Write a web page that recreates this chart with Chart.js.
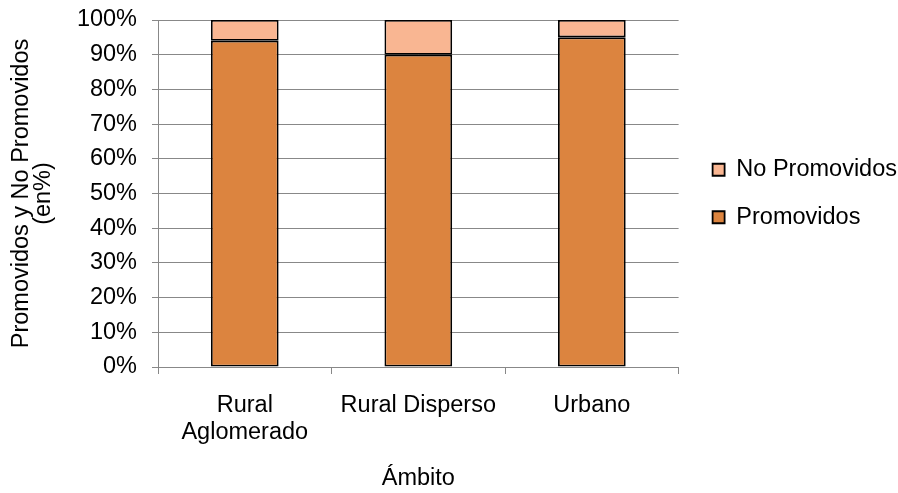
<!DOCTYPE html>
<html>
<head>
<meta charset="utf-8">
<script src="https://cdn.jsdelivr.net/npm/chart.js@4/dist/chart.umd.min.js"></script>
<style>
    html, body { margin: 0; padding: 0; background: #fff; }
    #wrap { width: 898px; height: 493px; }
</style>
</head>
<body>
<div id="wrap"><canvas id="chart"></canvas></div>
<script>
const categories = [["Rural", "Aglomerado"], "Rural Disperso", "Urbano"];
const promovidos = [94, 90, 95];
const noPromovidos = [6, 10, 5];
const yTicks = [0, 10, 20, 30, 40, 50, 60, 70, 80, 90, 100];

const FONT = "'Liberation Sans', Arial, sans-serif";
const SIZE = 23.5;

// nudge the legend a bit further from the plot, like the original
const legendShift = {
    id: "legendShift",
    afterLayout(chart) {
        if (chart.legend) {
            chart.legend.left += 10;
            chart.legend.right += 10;
        }
    }
};

const ctx = document.getElementById("chart").getContext("2d");

new Chart(ctx, {
    type: "bar",
    data: {
        labels: categories,
        datasets: [
            {
                label: "Promovidos",
                data: promovidos,
                backgroundColor: "#DC843F",
                borderColor: "#000000",
                borderWidth: 1.8,
                borderSkipped: false
            },
            {
                label: "No Promovidos",
                data: noPromovidos,
                backgroundColor: "#F9B692",
                borderColor: "#000000",
                borderWidth: 1.8,
                borderSkipped: false
            }
        ]
    },
    plugins: [legendShift],
    options: {
        responsive: true,
        maintainAspectRatio: false,
        animation: false,
        datasets: {
            bar: { categoryPercentage: 1, barPercentage: 0.39 }
        },
        layout: { padding: { top: 0, right: 1, bottom: 0, left: 10 } },
        plugins: {
            legend: {
                position: "right",
                fullSize: false,
                reverse: true,
                labels: {
                    color: "#000",
                    font: { family: FONT, size: SIZE },
                    boxWidth: 12,
                    boxHeight: 12,
                    padding: 24,
                    useBorderRadius: false
                }
            },
            tooltip: { enabled: false }
        },
        scales: {
            x: {
                stacked: true,
                offset: true,
                afterFit: axis => { axis.height = 126; },
                grid: {
                    offset: true,
                    drawOnChartArea: false,
                    color: "#888",
                    tickLength: 7
                },
                border: { color: "#888", width: 1 },
                ticks: {
                    color: "#000",
                    font: { family: FONT, size: SIZE, lineHeight: 1.15 },
                    padding: 18,
                    maxRotation: 0
                },
                title: {
                    display: true,
                    text: "Ámbito",
                    color: "#000",
                    font: { family: FONT, size: SIZE },
                    padding: { top: 6, bottom: 0 }
                }
            },
            y: {
                stacked: true,
                min: 0,
                max: 100,
                afterFit: axis => {
                    axis.width = 148;
                    axis.paddingTop = 20; // top gridline at y=20
                },
                afterBuildTicks: axis => { axis.ticks = yTicks.map(v => ({ value: v })); },
                grid: { color: "#888", tickLength: 6 },
                border: { color: "#888", width: 1 },
                ticks: {
                    color: "#000",
                    font: { family: FONT, size: SIZE },
                    padding: 15,
                    callback: v => v + "%"
                },
                title: {
                    display: true,
                    text: ["Promovidos y No Promovidos", "(en%)"],
                    color: "#000",
                    font: { family: FONT, size: SIZE, lineHeight: 0.95 },
                    padding: { top: 0, bottom: 10 }
                }
            }
        }
    }
});
</script>
</body>
</html>
